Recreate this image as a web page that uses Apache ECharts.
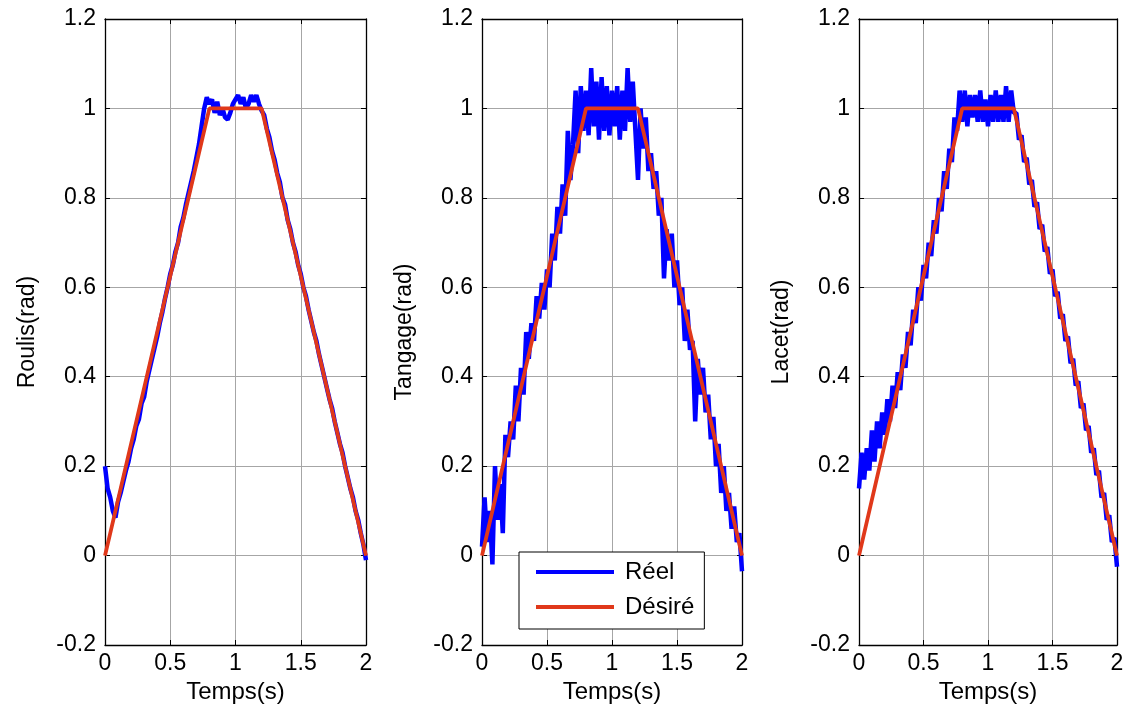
<!DOCTYPE html>
<html>
<head>
<meta charset="utf-8">
<script src="https://cdn.jsdelivr.net/npm/echarts@6/dist/echarts.min.js"></script>
<style>
html,body{margin:0;padding:0;background:#fff;}
#chart{width:1133px;height:713px;}
</style>
</head>
<body>
<div id="chart"></div>
<script>
// ---- data ----
const TIME = [0,0.02,0.04,0.06,0.08,0.10,0.12,0.14,0.16,0.18,
  0.20,0.22,0.24,0.26,0.28,0.30,0.32,0.34,0.36,0.38,
  0.40,0.42,0.44,0.46,0.48,0.50,0.52,0.54,0.56,0.58,
  0.60,0.62,0.64,0.66,0.68,0.70,0.72,0.74,0.76,0.78,
  0.80,0.82,0.84,0.86,0.88,0.90,0.92,0.94,0.96,0.98,
  1.00,1.02,1.04,1.06,1.08,1.10,1.12,1.14,1.16,1.18,
  1.20,1.22,1.24,1.26,1.28,1.30,1.32,1.34,1.36,1.38,
  1.40,1.42,1.44,1.46,1.48,1.50,1.52,1.54,1.56,1.58,
  1.60,1.62,1.64,1.66,1.68,1.70,1.72,1.74,1.76,1.78,
  1.80,1.82,1.84,1.86,1.88,1.90,1.92,1.94,1.96,1.98,
  2.00];

const ROULIS_REEL = [0.20,0.15,0.13,0.10,0.085,0.12,0.14,0.165,0.19,0.21,
  0.24,0.26,0.29,0.305,0.34,0.355,0.39,0.415,0.44,0.465,
  0.49,0.52,0.545,0.575,0.60,0.63,0.65,0.68,0.70,0.735,
  0.755,0.785,0.81,0.835,0.86,0.89,0.92,0.96,1.00,1.025,
  1.01,1.02,0.99,1.015,0.985,1.00,0.98,0.975,0.99,1.01,
  1.02,1.03,1.01,1.025,1.00,1.01,1.03,1.015,1.03,1.01,
  0.995,0.985,0.955,0.935,0.905,0.885,0.855,0.835,0.80,0.785,
  0.75,0.73,0.70,0.68,0.65,0.63,0.60,0.58,0.55,0.525,
  0.50,0.48,0.45,0.425,0.40,0.375,0.35,0.33,0.30,0.275,
  0.25,0.23,0.20,0.175,0.15,0.13,0.10,0.08,0.05,0.025,
  -0.01];

const TANGAGE_REEL = [0.02,0.13,0.03,0.10,-0.02,0.20,0.08,0.16,0.05,0.27,
  0.22,0.30,0.26,0.38,0.30,0.42,0.36,0.50,0.44,0.52,
  0.48,0.58,0.53,0.61,0.55,0.64,0.60,0.72,0.66,0.78,
  0.72,0.83,0.76,0.95,0.84,0.92,1.04,0.90,1.05,0.95,
  1.04,0.94,1.09,0.96,1.06,0.93,1.07,0.95,1.05,0.94,
  1.04,0.96,1.05,0.93,1.04,0.95,1.09,0.97,1.06,0.95,
  0.84,1.00,0.91,0.98,0.86,0.90,0.82,0.86,0.76,0.80,
  0.62,0.73,0.66,0.72,0.60,0.66,0.56,0.60,0.48,0.55,
  0.46,0.48,0.30,0.44,0.36,0.42,0.32,0.36,0.26,0.31,
  0.20,0.25,0.14,0.20,0.10,0.14,0.06,0.11,0.03,0.05,
  -0.035];

const LACET_REEL = [0.15,0.23,0.17,0.24,0.19,0.28,0.21,0.30,0.24,0.32,
  0.27,0.35,0.30,0.38,0.33,0.41,0.37,0.45,0.42,0.50,
  0.47,0.55,0.52,0.60,0.57,0.65,0.62,0.70,0.67,0.75,
  0.72,0.80,0.77,0.86,0.82,0.91,0.88,0.98,0.95,1.04,
  0.97,1.04,0.96,1.03,0.98,1.03,0.97,1.04,0.97,1.02,
  0.96,1.03,0.97,1.04,0.97,1.03,0.97,1.05,0.97,1.04,
  0.99,0.99,0.93,0.94,0.88,0.89,0.83,0.84,0.78,0.79,
  0.73,0.74,0.68,0.69,0.63,0.64,0.58,0.59,0.53,0.54,
  0.48,0.49,0.43,0.44,0.38,0.39,0.33,0.34,0.28,0.29,
  0.23,0.24,0.18,0.19,0.13,0.14,0.08,0.09,0.03,0.04,
  -0.025];

const DESIRE_TIME = [0, 0.8, 1.2, 2];
const DESIRE_VAL = [0, 1, 1, 0];

const PANELS = [
  {ylabel: 'Roulis(rad)', reel: ROULIS_REEL},
  {ylabel: 'Tangage(rad)', reel: TANGAGE_REEL},
  {ylabel: 'Lacet(rad)', reel: LACET_REEL}
];
const X_TICKS = {min: 0, max: 2, interval: 0.5};
const Y_TICKS = {min: -0.2, max: 1.2, interval: 0.2};
const X_NAME = 'Temps(s)';
const LEGEND_NAMES = ['Réel', 'Désiré'];

// ---- layout / style ----
const FONT = 'Liberation Sans, Arial, Helvetica, sans-serif';
const BLUE = '#0000ff';
const RED = '#e0381a';
const GRIDS = [
  {left: 105, top: 19, width: 261, height: 626},
  {left: 482, top: 19, width: 260, height: 626},
  {left: 859, top: 19, width: 258, height: 626}
];

const pairs = (xs, ys) => xs.map((x, i) => [x, ys[i]]);

const axisLine = {show: true, onZero: false, lineStyle: {color: '#000', width: 1.3}};
const tick = {show: true, inside: true, length: 5, lineStyle: {color: '#000', width: 1}};
const split = {show: true, lineStyle: {color: '#a6a6a6', width: 1}};

const xAxis = [], yAxis = [], series = [];
PANELS.forEach((p, i) => {
  xAxis.push({
    gridIndex: i, type: 'value', position: 'bottom', ...X_TICKS,
    axisLine, axisTick: tick, splitLine: split,
    axisLabel: {color: '#000', fontSize: 23, fontFamily: FONT, margin: 7},
    name: X_NAME, nameLocation: 'middle', nameGap: 35,
    nameTextStyle: {color: '#000', fontSize: 24, fontFamily: FONT}
  });
  xAxis.push({
    gridIndex: i, type: 'value', position: 'top', ...X_TICKS,
    axisLine, axisTick: tick, splitLine: {show: false}, axisLabel: {show: false}
  });
  yAxis.push({
    gridIndex: i, type: 'value', position: 'left', ...Y_TICKS,
    axisLine, axisTick: tick, splitLine: split,
    axisLabel: {color: '#000', fontSize: 23, fontFamily: FONT, margin: 9},
    name: p.ylabel, nameLocation: 'middle', nameGap: 66,
    nameTextStyle: {color: '#000', fontSize: 23, fontFamily: FONT}
  });
  yAxis.push({
    gridIndex: i, type: 'value', position: 'right', ...Y_TICKS,
    axisLine, axisTick: tick, splitLine: {show: false}, axisLabel: {show: false}
  });
  series.push({
    type: 'line', name: LEGEND_NAMES[0], xAxisIndex: 2 * i, yAxisIndex: 2 * i,
    data: pairs(TIME, p.reel), symbol: 'none', showSymbol: false,
    color: BLUE, lineStyle: {color: BLUE, width: 4.5}, z: 2
  });
  series.push({
    type: 'line', name: LEGEND_NAMES[1], xAxisIndex: 2 * i, yAxisIndex: 2 * i,
    data: pairs(DESIRE_TIME, DESIRE_VAL), symbol: 'none', showSymbol: false,
    color: RED, lineStyle: {color: RED, width: 3.8}, z: 3
  });
});

const chart = echarts.init(document.getElementById('chart'), null, {renderer: 'canvas'});
chart.setOption({
  animation: false,
  backgroundColor: '#fff',
  grid: GRIDS.map(g => ({...g, containLabel: false})),
  xAxis, yAxis, series,
  legend: {
    orient: 'vertical', left: 519, top: 552,
    data: LEGEND_NAMES.map(n => ({name: n, icon: 'rect'})),
    itemWidth: 78, itemHeight: 4, itemGap: 11,
    padding: [8, 10, 10, 17],
    backgroundColor: '#fff', borderColor: '#000', borderWidth: 1, borderRadius: 0,
    selectedMode: false,
    textStyle: {color: '#000', fontSize: 24, fontFamily: FONT, padding: [0, 0, 0, 6]}
  }
});
</script>
</body>
</html>
